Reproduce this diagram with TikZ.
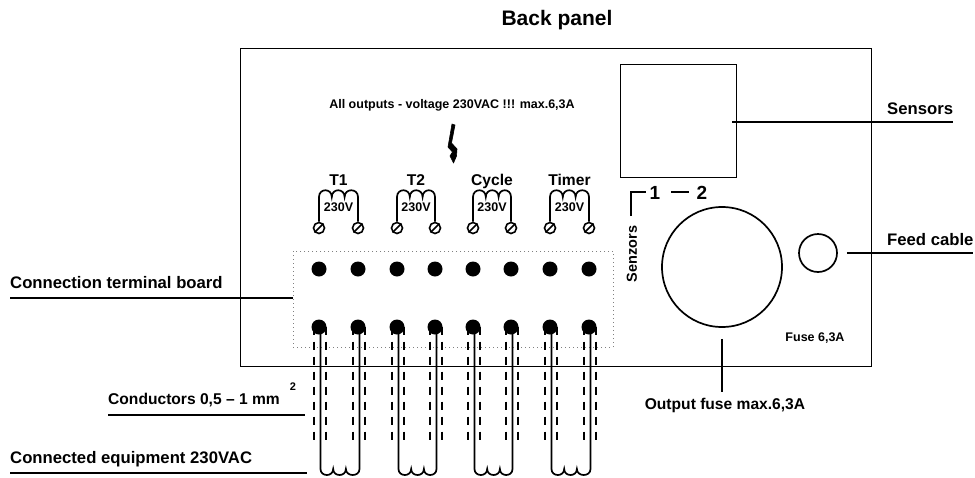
\documentclass[tikz,border=0pt]{standalone}
\usepackage{fontspec}
\setmainfont{Liberation Sans}
\usetikzlibrary{calc}
\tikzset{
  labelbig/.style={font=\bfseries\fontsize{16.7}{18}\selectfont, inner sep=0pt},
  labelmid/.style={font=\bfseries\fontsize{15.6}{18}\selectfont, inner sep=0pt},
  leader/.style={line width=1.5pt},
  termdot/.style={circle, fill=black, minimum size=15pt, inner sep=0pt},
  screw/.style={circle, draw, line width=1.6pt, minimum size=11pt, inner sep=0pt},
  wire/.style={line width=1.7pt},
  wiredash/.style={line width=2pt, dash pattern=on 8.5pt off 6.5pt}
}
\begin{document}
\begin{tikzpicture}[x=1pt, y=-1pt]
  \useasboundingbox (0,0) rectangle (975,477);
  % panel and its big parts
  \node[font=\bfseries\fontsize{21}{23}\selectfont, inner sep=0pt] (title) at (557,20) {Back panel};
  \draw[line width=0.8pt] (240,48) rectangle (871,366);
  \node[draw, line width=0.8pt, minimum width=116pt, minimum height=113pt, inner sep=0pt] (sensorbox) at (678,120.5) {};
  \node[circle, draw, line width=1.7pt, minimum size=120pt, inner sep=0pt] (fuse) at (722,267) {};
  \node[circle, draw, line width=1.7pt, minimum size=38pt, inner sep=0pt] (feed) at (818,253) {};
  \node[font=\bfseries\fontsize{12.5}{14}\selectfont, inner sep=0pt] (fuselabel) at (815,338) {Fuse 6,3A};
  \node[font=\bfseries\fontsize{12.5}{14}\selectfont, inner sep=0pt] (warning) at (452,105) {All outputs - voltage 230VAC !!! max.6,3A};
  % flash
  \fill[draw, line width=0.6pt, line join=round] (452,124) -- (455,125) -- (451.5,143) -- (457,149) -- (456.5,156) -- (453.5,163) -- (450,156) -- (452.5,152) -- (448,147) -- cycle;
  % terminal board
  \draw[line width=0.8pt, gray, dash pattern=on 1pt off 3pt] (293,251) rectangle (613,347);
  \coordinate (boardW) at (293,298);
  \foreach \i/\xx in {1/319,2/358,3/397,4/435,5/473,6/511,7/550,8/589} {
    \node[termdot] (top\i) at (\xx,269) {};
    \node[termdot] (bot\i) at (\xx,327) {};
    \node[screw] (scr\i) at (\xx,228) {};
    \draw[line width=1.6pt] (scr\i.south west) -- (scr\i.north east);
    \draw[wiredash] (\xx-5,326.5) -- (\xx-5,440);
    \draw[wiredash] (\xx+6.5,326.5) -- (\xx+6.5,440);
  }
  % coils above the terminals
  \foreach \a/\b/\name in {1/2/T1,3/4/T2,5/6/Cycle,7/8/Timer} {
    \draw[wire] (scr\a.north) -- (scr\a |- 0,197)
      .. controls +(0,-9) and +(0,-9) .. ++(12.8,0)
      .. controls +(0,-9) and +(0,-9) .. ++(12.8,0)
      .. controls +(0,-9) and +(0,-9) .. (scr\b |- 0,197) -- (scr\b.north);
    \node[font=\bfseries\fontsize{12.5}{14}\selectfont, inner sep=0pt] (volt\a) at ($(scr\a |- 0,207)!0.5!(scr\b |- 0,207)$) {230V};
    \node[labelmid, anchor=base] (coil\a) at ($(scr\a |- 0,185)!0.5!(scr\b |- 0,185)$) {\name};
    % connected conductors below
    \draw[wire] ($(bot\a)+(1.5,0)$) -- ++(0,142)
      .. controls +(0,8) and +(0,8) .. ++(12.7,0)
      .. controls +(0,8) and +(0,8) .. ++(12.7,0)
      .. controls +(0,8) and +(0,8) .. ($(bot\b)+(1.5,142)$) -- ($(bot\b)+(1.5,0)$);
  }
  % sensors connector
  \node[font=\bfseries\fontsize{19}{21}\selectfont, inner sep=0pt] (num1) at (655,193) {1};
  \node[font=\bfseries\fontsize{19}{21}\selectfont, inner sep=0pt] (num2) at (702,193) {2};
  \draw[leader] (671,192) -- (689,192);
  \node[font=\bfseries\fontsize{14.5}{16}\selectfont, inner sep=0pt, rotate=90] (senzors) at (632,254) {Senzors};
  \draw[leader] (631,216) |- (646,192);
  % labels with their lines
  \node[labelbig, anchor=west] (sensorstext) at (887,109) {Sensors};
  \coordinate (sensorsstart) at (732,122);
  \coordinate (sensorsend) at (953,122);
  \draw[leader] (sensorsstart) -- (sensorsend);
  \node[labelbig, anchor=west] (feedtext) at (887,240) {Feed cable};
  \coordinate (feedend) at (973,253);
  \draw[leader] (feed.east) ++(9,0) -- (feedend);
  \node[labelbig, anchor=west] (boardtext) at (10,283) {Connection terminal board};
  \coordinate (boardstart) at (10,298);
  \draw[leader] (boardstart) -- (boardW);
  \node[labelmid, anchor=west] (condtext) at (108,400) {Conductors 0,5 -- 1 mm};
  \node[font=\bfseries\fontsize{11}{13}\selectfont, inner sep=0pt] (condsup) at (293,387) {2};
  \coordinate (condstart) at (108,415);
  \coordinate (condend) at (305,415);
  \draw[leader] (condstart) -- (condend);
  \node[labelbig, anchor=west] (equiptext) at (10,459) {Connected equipment 230VAC};
  \coordinate (equipstart) at (10,473);
  \coordinate (equipend) at (307,473);
  \draw[leader] (equipstart) -- (equipend);
  \node[labelmid] (fusetext) at (725,405) {Output fuse max.6,3A};
  \coordinate (fuseend) at (722,392);
  \draw[leader] (fuse.south) ++(0,11) -- (fuseend);
\end{tikzpicture}
\end{document}
